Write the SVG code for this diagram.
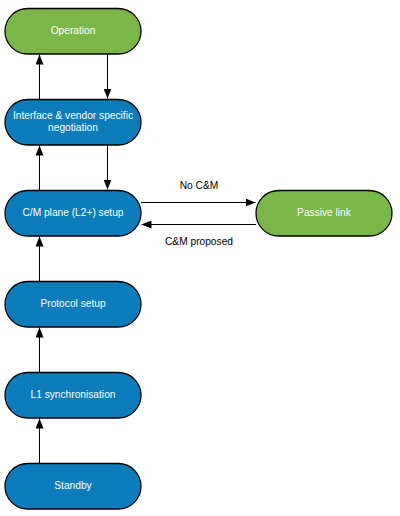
<svg xmlns="http://www.w3.org/2000/svg" width="400" height="516" viewBox="0 0 400 516">
<style>
.n{stroke:#000;stroke-width:1.3}
.g{fill:#7AB648}
.b{fill:#0C7CBA}
.t{font-family:"Liberation Sans",Arial,sans-serif;font-size:10.2px;fill:#fff;text-anchor:middle}
.l{font-family:"Liberation Sans",Arial,sans-serif;font-size:10.2px;fill:#000;text-anchor:middle}
.c{stroke:#000;stroke-width:1;fill:none;marker-end:url(#a)}
</style>
<defs>
<marker id="a" viewBox="0 0 10 8" refX="10" refY="4" markerWidth="10" markerHeight="8" markerUnits="userSpaceOnUse" orient="auto">
<path d="M0,0L10,4L0,8z" fill="#000"/>
</marker>
</defs>
<rect width="400" height="516" fill="#fff"/>
<g id="connectors">
<path class="c" d="M39.5,99V54.5"/>
<path class="c" d="M107.5,54V98.5"/>
<path class="c" d="M39.5,190V145.5"/>
<path class="c" d="M107.5,145V189.5"/>
<path class="c" d="M39.5,281V236.5"/>
<path class="c" d="M39.5,372V327.5"/>
<path class="c" d="M39.5,463V418.5"/>
<path class="c" d="M141,202.5H255.5"/>
<path class="c" d="M256,224.5H141.5"/>
<text class="l" x="199" y="188.7">No C&amp;M</text>
<text class="l" x="199" y="244.7">C&amp;M proposed</text>
</g>
<g id="operation"><rect class="n g" x="5" y="8.5" width="136" height="45.5" rx="22.75"/><text class="t" x="73" y="34">Operation</text></g>
<g id="negotiation"><rect class="n b" x="5" y="99.5" width="136" height="45.5" rx="22.75"/><text class="t" x="73" y="118.6">Interface &amp; vendor specific</text><text class="t" x="73" y="131">negotiation</text></g>
<g id="cm"><rect class="n b" x="5" y="190.5" width="136" height="45.5" rx="22.75"/><text class="t" x="73" y="216">C/M plane (L2+) setup</text></g>
<g id="passive"><rect class="n g" x="256" y="190.5" width="136" height="45.5" rx="22.75"/><text class="t" x="324" y="216">Passive link</text></g>
<g id="protocol"><rect class="n b" x="5" y="281.5" width="136" height="45.5" rx="22.75"/><text class="t" x="73" y="307">Protocol setup</text></g>
<g id="l1"><rect class="n b" x="5" y="372.5" width="136" height="45.5" rx="22.75"/><text class="t" x="73" y="398">L1 synchronisation</text></g>
<g id="standby"><rect class="n b" x="5" y="463.5" width="136" height="45.5" rx="22.75"/><text class="t" x="73" y="489">Standby</text></g>
</svg>
